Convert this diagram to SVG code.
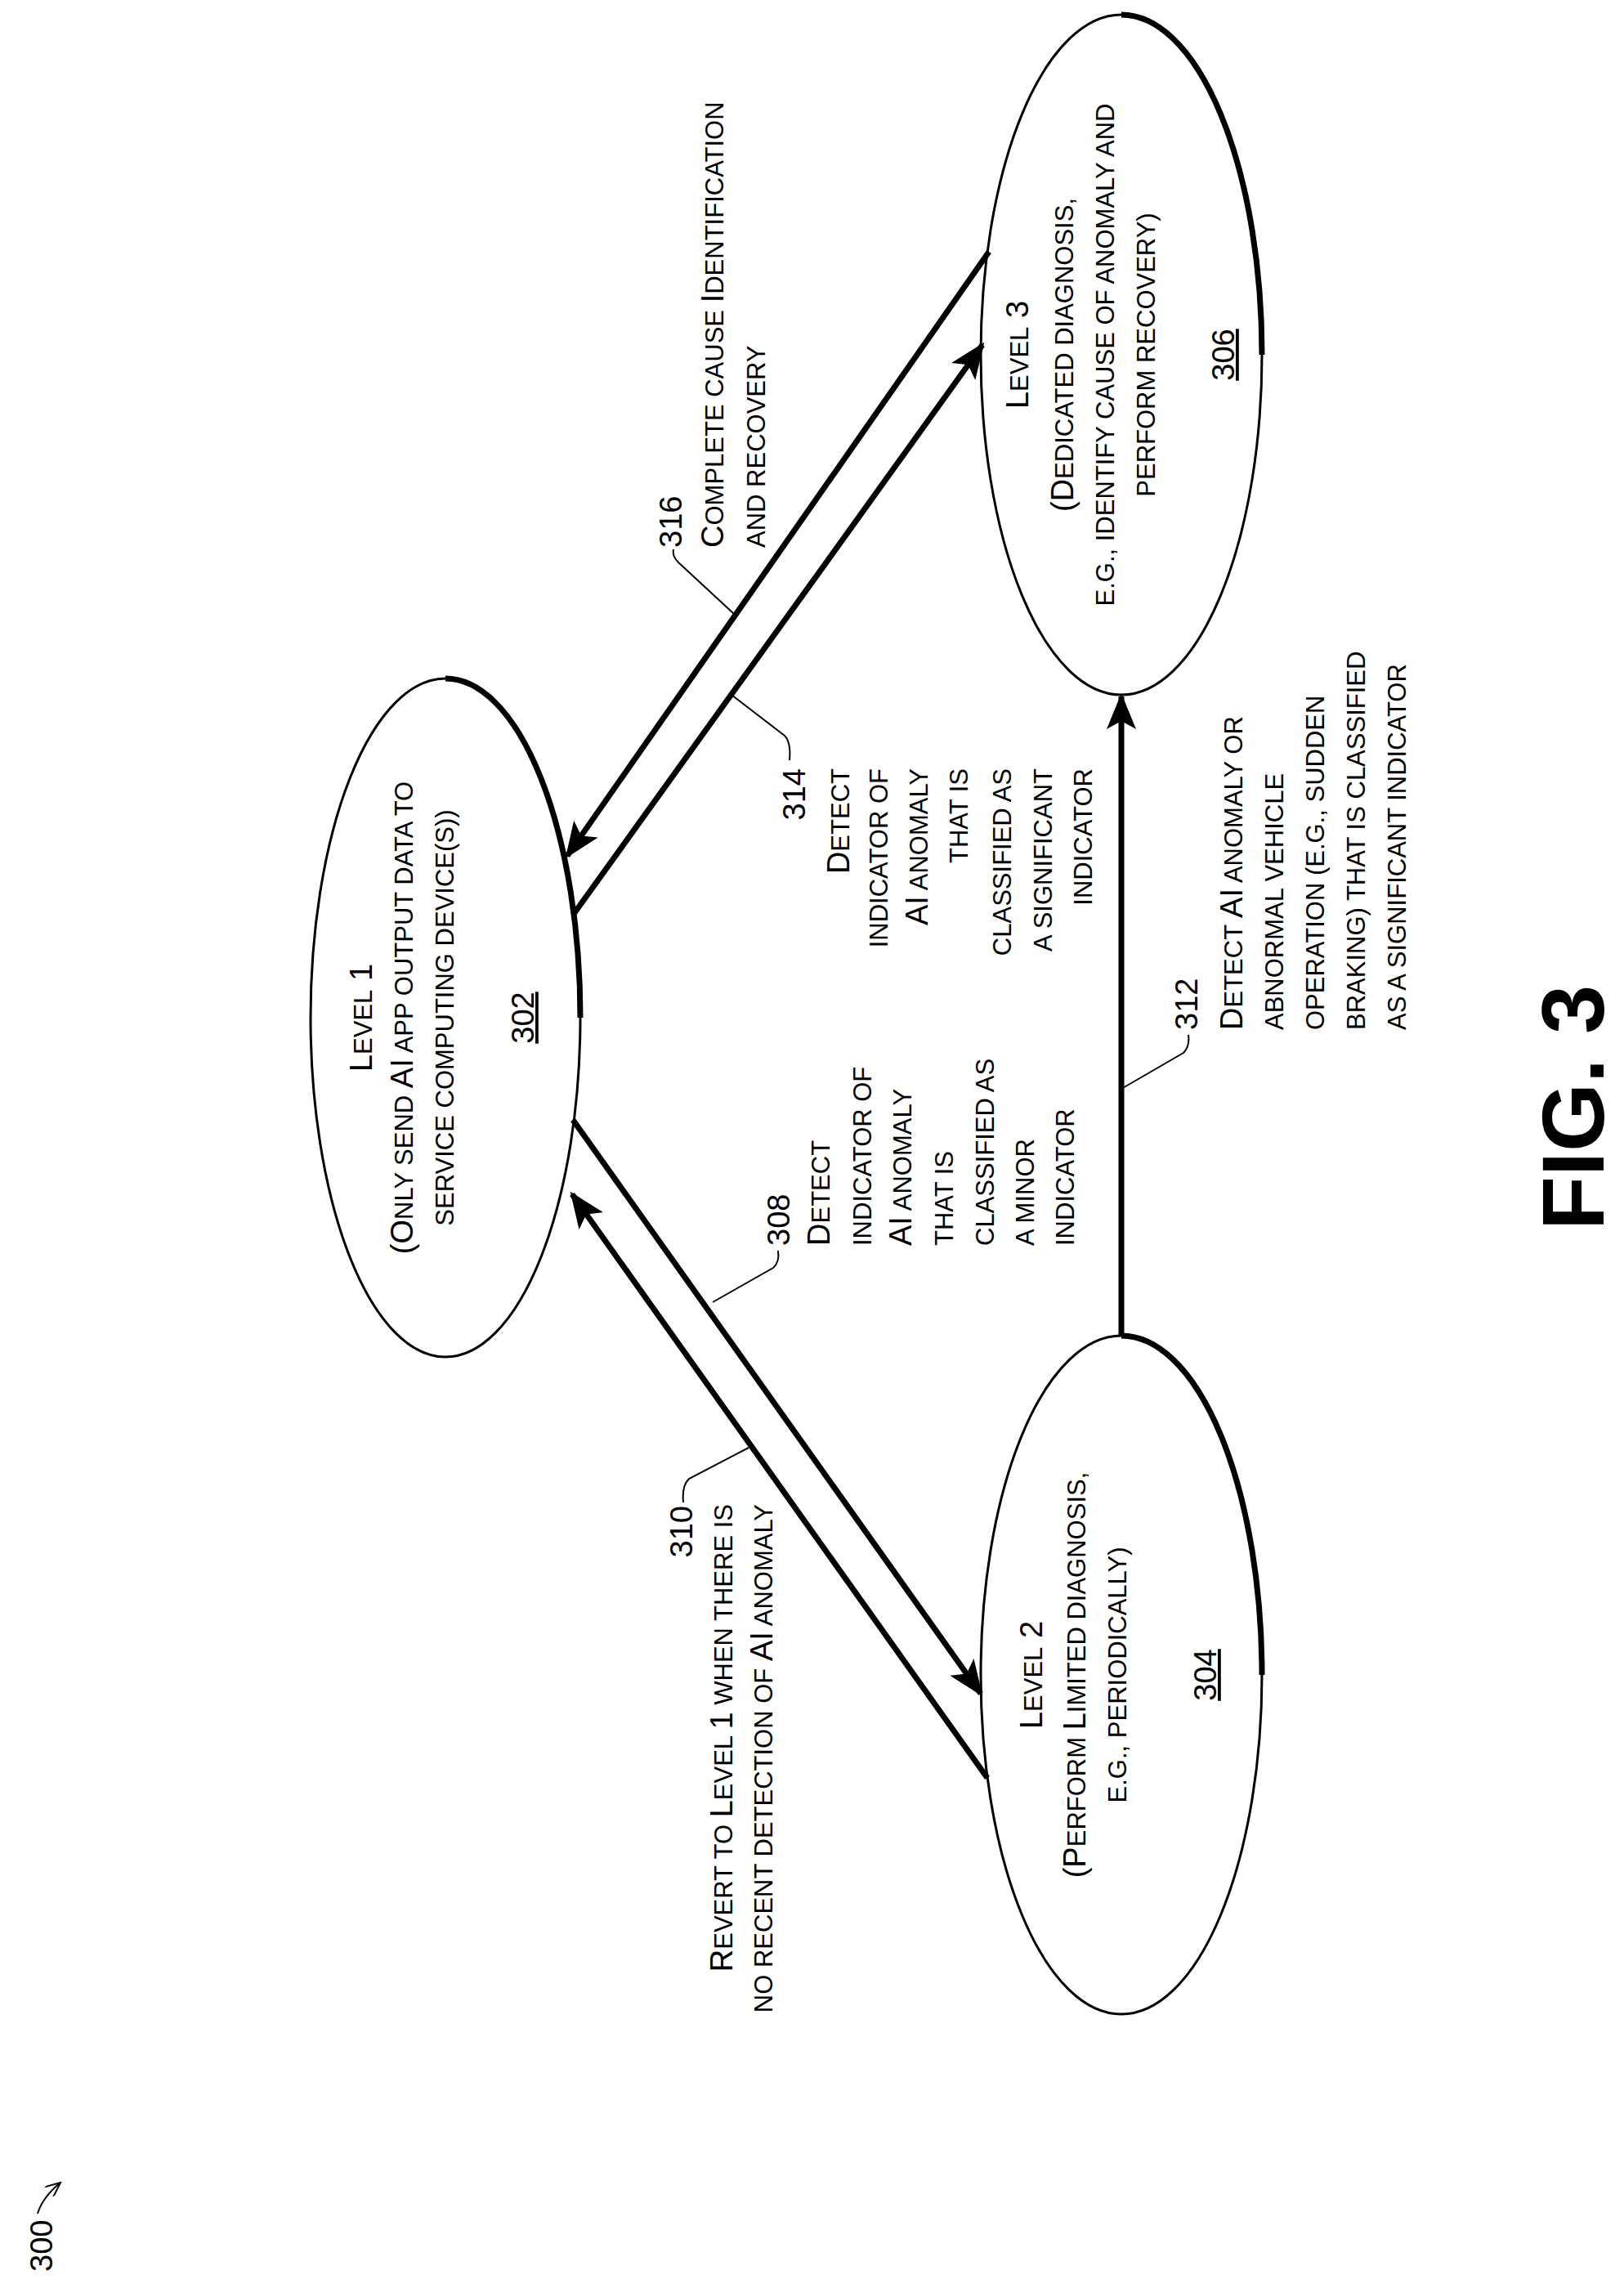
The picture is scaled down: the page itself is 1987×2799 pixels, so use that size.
<svg xmlns="http://www.w3.org/2000/svg" width="1987" height="2799" viewBox="0 0 1987 2799">
<style>
text{font-family:"Liberation Sans",Arial,sans-serif;font-size:38px;fill:#000}
.s{font-size:31px}
.m{text-anchor:middle}
.e{text-anchor:end}
.fig{font-size:108px;font-weight:bold}
.el{fill:#fff;stroke:#000;stroke-width:3}
.sh{fill:none;stroke:#000;stroke-width:7}
.ar{fill:none;stroke:#000;stroke-width:7}
.ld{fill:none;stroke:#000;stroke-width:2}
</style>
<defs>
<marker id="ah" markerUnits="userSpaceOnUse" markerWidth="44" markerHeight="36" refX="40" refY="18" orient="auto">
<path d="M0,0 L44,18 L0,36 L10,18 Z" fill="#000"/>
</marker>
<marker id="sa" markerUnits="userSpaceOnUse" markerWidth="20" markerHeight="16" refX="18" refY="8" orient="auto">
<path d="M0,0 L18,8 L0,16" fill="none" stroke="#000" stroke-width="2"/>
</marker>
</defs>
<g id="n302">
<ellipse class="el" cx="545" cy="1245" rx="165" ry="415"/>
<path class="sh" d="M545,830 A165,415 0 0 1 710,1245"/>
<g transform="rotate(-90)">
<text class="m" x="-1245" y="455">L<tspan class="s">EVEL</tspan> 1</text>
<text class="m" x="-1245" y="505">(O<tspan class="s">NLY SEND </tspan>AI<tspan class="s"> APP OUTPUT DATA TO</tspan></text>
<text class="m s" x="-1245" y="555">SERVICE COMPUTING DEVICE(S))</text>
<text class="m" x="-1245" y="653" text-decoration="underline">302</text>
</g>
</g>
<g id="n304">
<ellipse class="el" cx="1372" cy="2049" rx="172" ry="415"/>
<path class="sh" d="M1372,1634 A172,415 0 0 1 1544,2049"/>
<g transform="rotate(-90)">
<text class="m" x="-2049" y="1275">L<tspan class="s">EVEL</tspan> 2</text>
<text class="m" x="-2049" y="1328">(P<tspan class="s">ERFORM </tspan>L<tspan class="s">IMITED DIAGNOSIS,</tspan></text>
<text class="m s" x="-2049" y="1378">E.G., PERIODICALLY)</text>
<text class="m" x="-2049" y="1488" text-decoration="underline">304</text>
</g>
</g>
<g id="n306">
<ellipse class="el" cx="1372" cy="434" rx="172" ry="416"/>
<path class="sh" d="M1372,18 A172,416 0 0 1 1544,434"/>
<g transform="rotate(-90)">
<text class="m" x="-434" y="1258">L<tspan class="s">EVEL</tspan> 3</text>
<text class="m" x="-434" y="1313">(D<tspan class="s">EDICATED DIAGNOSIS,</tspan></text>
<text class="m s" x="-434" y="1363">E.G., IDENTIFY CAUSE OF ANOMALY AND</text>
<text class="m s" x="-434" y="1413">PERFORM RECOVERY)</text>
<text class="m" x="-434" y="1510" text-decoration="underline">306</text>
</g>
</g>
<g id="connectors">
<line class="ar" x1="1210" y1="308" x2="694" y2="1047" marker-end="url(#ah)"/>
<line class="ar" x1="702" y1="1118" x2="1202" y2="422" marker-end="url(#ah)"/>
<line class="ar" x1="701" y1="1370" x2="1200" y2="2072" marker-end="url(#ah)"/>
<line class="ar" x1="1208" y1="2175" x2="700" y2="1461" marker-end="url(#ah)"/>
<line class="ar" x1="1372" y1="1634" x2="1372" y2="852" marker-end="url(#ah)"/>
<path class="ld" d="M898,751 L830,688 Q822,680 824,672"/>
<path class="ld" d="M895,850 L960,900 Q968,908 966,930"/>
<path class="ld" d="M1372,1332 L1448,1288 Q1456,1280 1454,1266"/>
<path class="ld" d="M872,1593 L946,1551 Q954,1544 952,1530"/>
<path class="ld" d="M916,1771 L843,1809 Q834,1818 836,1838"/>
<path class="ld" d="M46,2708 Q52,2688 74,2670" marker-end="url(#sa)"/>
</g>
<g id="labels" transform="rotate(-90)">
<text x="-670" y="834">316</text>
<text x="-670" y="885">C<tspan class="s">OMPLETE CAUSE </tspan>I<tspan class="s">DENTIFICATION</tspan></text>
<text class="s" x="-670" y="936">AND RECOVERY</text>
<text class="e" x="-940" y="985">314</text>
<text class="e" x="-940" y="1039">D<tspan class="s">ETECT</tspan></text>
<text class="e s" x="-940" y="1086">INDICATOR OF</text>
<text class="e" x="-940" y="1135">AI<tspan class="s"> ANOMALY</tspan></text>
<text class="e s" x="-940" y="1184">THAT IS</text>
<text class="e s" x="-940" y="1237">CLASSIFIED AS</text>
<text class="e s" x="-940" y="1287">A SIGNIFICANT</text>
<text class="e s" x="-940" y="1336">INDICATOR</text>
<text x="-1260" y="1465">312</text>
<text x="-1260" y="1520">D<tspan class="s">ETECT </tspan>AI<tspan class="s"> ANOMALY OR</tspan></text>
<text class="s" x="-1260" y="1570">ABNORMAL VEHICLE</text>
<text class="s" x="-1260" y="1620">OPERATION  (E.G., SUDDEN</text>
<text class="s" x="-1260" y="1670">BRAKING) THAT IS CLASSIFIED</text>
<text class="s" x="-1260" y="1720">AS A SIGNIFICANT INDICATOR</text>
<text x="-1524" y="966">308</text>
<text x="-1524" y="1015">D<tspan class="s">ETECT</tspan></text>
<text class="s" x="-1524" y="1066">INDICATOR OF</text>
<text x="-1524" y="1115">AI<tspan class="s"> ANOMALY</tspan></text>
<text class="s" x="-1524" y="1166">THAT IS</text>
<text class="s" x="-1524" y="1216">CLASSIFIED AS</text>
<text class="s" x="-1524" y="1265">A MINOR</text>
<text class="s" x="-1524" y="1314">INDICATOR</text>
<text class="e" x="-1842" y="847">310</text>
<text class="e" x="-1840" y="896">R<tspan class="s">EVERT TO </tspan>L<tspan class="s">EVEL </tspan>1<tspan class="s"> WHEN THERE IS</tspan></text>
<text class="e s" x="-1840" y="945">NO RECENT DETECTION OF <tspan style="font-size:38px">AI</tspan> ANOMALY</text>
<text x="-2779" y="64">300</text>
<text class="fig m" x="-1355" y="1962">FIG. 3</text>
</g>
</svg>
